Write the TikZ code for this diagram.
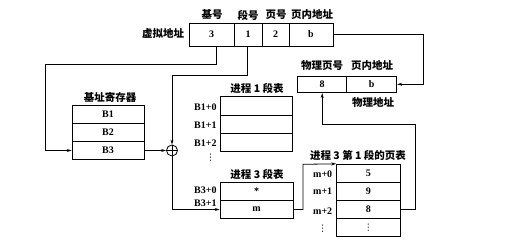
\documentclass[tikz,border=0pt]{standalone}
\usepackage{fontspec}
\setmainfont{Liberation Serif}
\newfontfamily\cjk{Noto Sans CJK SC}
\newfontfamily\djv{DejaVu Sans}
\usetikzlibrary{arrows.meta,calc}
\begin{document}
\begin{tikzpicture}[x=1pt,y=-1pt,line width=0.8pt,
  cell/.style={draw,inner sep=0pt,font=\bfseries\fontsize{10}{11}\selectfont},
  lbl/.style={inner sep=0pt,font=\cjk\bfseries\fontsize{10.5}{12}\selectfont},
  tag/.style={inner sep=0pt,font=\bfseries\fontsize{10}{11}\selectfont},
  vdot/.style={inner sep=0pt,font=\djv\fontsize{9}{9}\selectfont},
  arr/.style={-{Stealth[length=5pt,width=3pt]}}]
\useasboundingbox (0,0) rectangle (515,245);
% virtual address
\node[cell,minimum width=45pt,minimum height=23pt] (va3) at (211.5,34.5) {3};
\node[cell,minimum width=28pt,minimum height=23pt] (va1) at (248,34.5) {1};
\node[cell,minimum width=27pt,minimum height=23pt] (va2) at (275.5,34.5) {2};
\node[cell,minimum width=44pt,minimum height=23pt] (vab) at (311,34.5) {b};
\node[lbl] (lva) at (163,34) {虚拟地址};
\node[lbl] (h1) at (212,15) {基号};
\node[lbl] (h2) at (248,15) {段号};
\node[lbl] (h3) at (276,15) {页号};
\node[lbl] (h4) at (312,15) {页内地址};
% base register
\node[lbl] (lbr) at (110,97) {基址寄存器};
\node[cell,minimum width=72pt,minimum height=18pt] (br1) at (108,114.5) {B1};
\node[cell,minimum width=72pt,minimum height=18pt] (br2) at (108,132.5) {B2};
\node[cell,minimum width=72pt,minimum height=18pt] (br3) at (108,150.5) {B3};
% adder
\node[draw,circle,minimum size=11pt,inner sep=0pt] (plus) at (172,150.5) {};
\draw (plus.north) -- (plus.south) (plus.west) -- (plus.east);
% process 1 segment table
\node[lbl] (lp1) at (257,88) {进程 1 段表};
\node[cell,minimum width=72pt,minimum height=18.3pt] (p1a) at (256,105.8) {};
\node[cell,minimum width=72pt,minimum height=18.3pt] (p1b) at (256,124.2) {};
\node[cell,minimum width=72pt,minimum height=18.3pt] (p1c) at (256,142.5) {};
\node[tag,anchor=east] (t10) at (217,107.7) {B1+0};
\node[tag,anchor=east] (t11) at (217,125.7) {B1+1};
\node[tag,anchor=east] (t12) at (217,143.3) {B1+2};
\node[vdot] (t13) at (210.5,158) {⋮};
% process 3 segment table
\node[lbl] (lp3) at (257,174) {进程 3 段表};
\node[cell,minimum width=73pt,minimum height=18.3pt] (p3a) at (256.5,191.2) {*};
\node[cell,minimum width=73pt,minimum height=18.3pt] (p3b) at (256.5,209.5) {m};
\node[tag,anchor=east] (t30) at (217,190.5) {B3+0};
\node[tag,anchor=east] (t31) at (217,203) {B3+1};
% page table
\node[lbl] (lpt) at (358,155) {进程 3 第 1 段的页表};
\node[cell,minimum width=63.3pt,minimum height=18.1pt] (pt0) at (368.3,173.3) {5};
\node[cell,minimum width=63.3pt,minimum height=18.1pt] (pt1) at (368.3,191.4) {9};
\node[cell,minimum width=63.3pt,minimum height=18.1pt] (pt2) at (368.3,209.5) {8};
\node[cell,minimum width=63.3pt,minimum height=18.1pt] (pt3) at (368.3,227.6) {};
\node[vdot] (pt3d) at (368.3,228) {⋮};
\node[tag] (m0) at (322.7,174) {m+0};
\node[tag] (m1) at (322.7,191.7) {m+1};
\node[tag] (m2) at (322.7,210.7) {m+2};
\node[vdot] (m3) at (322.7,229) {⋮};
% physical address
\node[lbl] (lpa1) at (322,66) {物理页号};
\node[lbl] (lpa2) at (372,66) {页内地址};
\node[cell,minimum width=49pt,minimum height=16.7pt] (pa8) at (322.2,84.3) {8};
\node[cell,minimum width=50pt,minimum height=16.7pt] (pab) at (371.7,84.3) {b};
\node[lbl] (lpa) at (373,103) {物理地址};
% connectors
\coordinate (c1) at (45.7,64);
\coordinate (c2) at (172,75);
\coordinate (c3) at (303,164.3);
\coordinate (c4) at (415,124);
\coordinate (c5) at (423,34.5);
\draw[arr] ([xshift=5.2pt]va3.south) |- (c1) |- (br3.west);
\draw[arr] ([xshift=-1pt]va1.south) |- (c2) -- (plus.north);
\draw[arr] (br3.east) -- (plus.west);
\draw[arr] (plus.south) |- (p3b.west);
\draw[arr] (p3b.east) -| (c3) -- (pt0.north west);
\draw[arr] (pt2.east) -| (c4) -| (pa8.south);
\draw[arr] (vab.east) -- (c5) |- (pab.east);
\end{tikzpicture}
\end{document}
